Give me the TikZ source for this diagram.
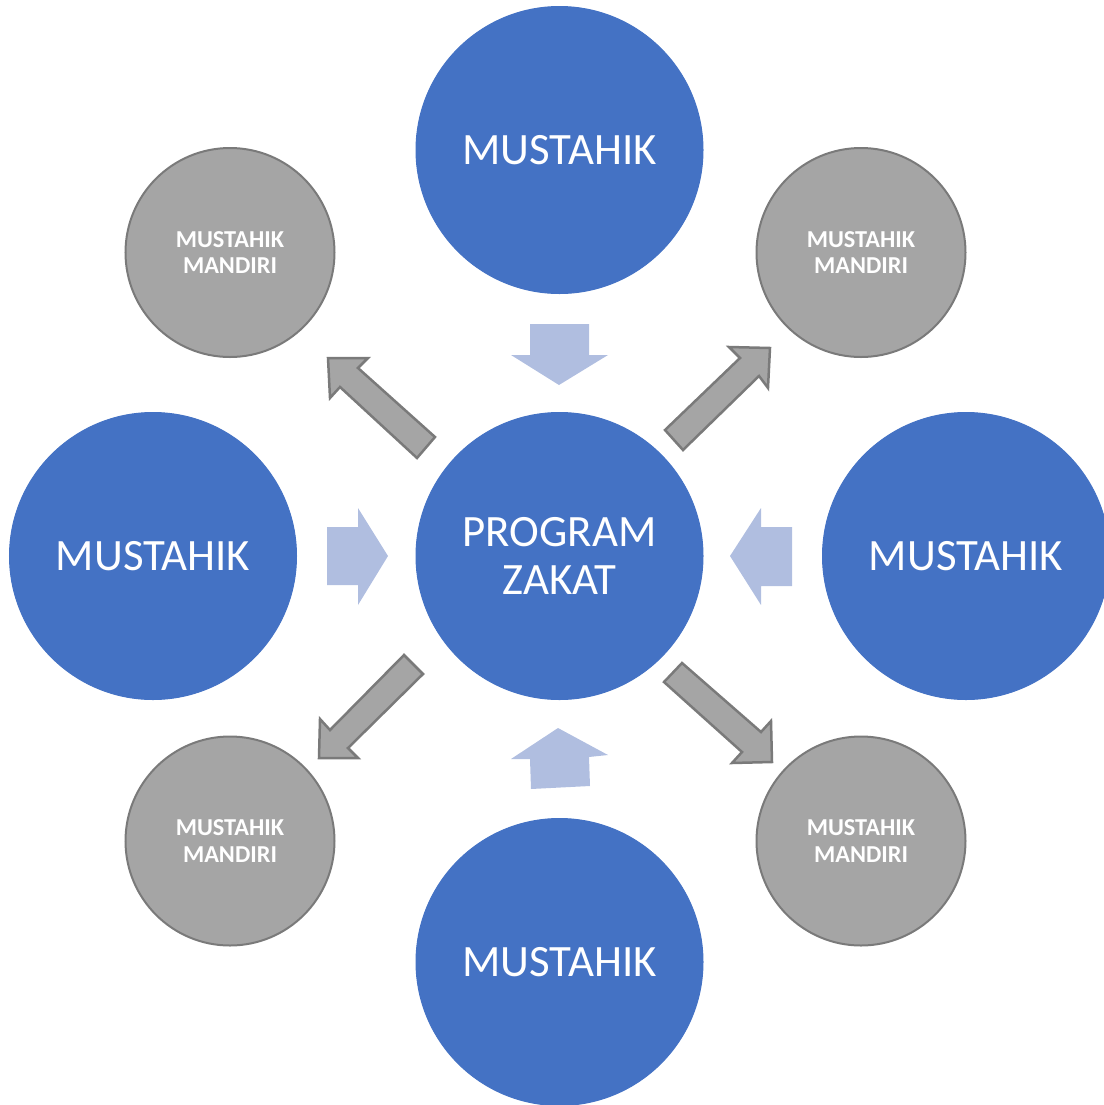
\documentclass[tikz,border=0pt]{standalone}
\usepackage{fontspec}
\setmainfont{Carlito}
\definecolor{zblue}{HTML}{4472C4}
\definecolor{zgray}{HTML}{A5A5A5}
\definecolor{zgrayline}{HTML}{7A7A7A}
\definecolor{zlight}{RGB}{176,190,224}
\begin{document}
\begin{tikzpicture}[x=1bp,y=-1bp,
  bigc/.style={circle, fill=zblue, draw=zblue, line width=1bp, minimum size=287bp, inner sep=0pt,
    text=white, font=\fontsize{45}{48}\selectfont, align=center},
  smallc/.style={circle, fill=zgray, draw=zgrayline, line width=2bp, minimum size=209bp, inner sep=0pt,
    text=white, font=\bfseries\fontsize{24.4}{27}\selectfont, align=center},
  lightarrow/.style={fill=zlight},
  grayarrow/.style={fill=zgray, draw=zgrayline, line width=2.5bp, line join=miter}]
\useasboundingbox (0,0) rectangle (1104,1105);
\begin{scope}
\clip (0,0) rectangle (1104,1105);
% big blue circles
\node[bigc] (top) at (559.5,150) {MUSTAHIK};
\node[bigc] (center) at (559.5,556) {PROGRAM\\ZAKAT};
\node[bigc] (left) at (153,556) {MUSTAHIK};
\node[bigc] (right) at (966,556) {MUSTAHIK};
\node[bigc] (bottom) at (559.5,962) {MUSTAHIK};
% grey circles
\node[smallc] (tl) at (230,252.5) {MUSTAHIK\\MANDIRI};
\node[smallc] (tr) at (861,252.5) {MUSTAHIK\\MANDIRI};
\node[smallc] (bl) at (230,841) {MUSTAHIK\\MANDIRI};
\node[smallc] (br) at (861,841) {MUSTAHIK\\MANDIRI};
% light blue block arrows (into the programme)
\fill[lightarrow] (530,324) -- (589,324) -- (589,355) -- (608,355) -- (559,385) -- (511,355) -- (530,355) -- cycle;
\fill[lightarrow] (327,527) -- (358,527) -- (358,508) -- (388,556) -- (358,605) -- (358,585) -- (327,585) -- cycle;
\fill[lightarrow] (792,527) -- (761,527) -- (761,508) -- (730,556) -- (761,605) -- (761,586) -- (792,586) -- cycle;
\fill[lightarrow] (531,789) -- (530,759) -- (511,759) -- (558,728) -- (608,755) -- (589,757) -- (590,786) -- cycle;
% grey block arrows (out of the programme)
\draw[grayarrow] (665,430) -- (740,358) -- (729,347) -- (770,348) -- (768,388) -- (759,376) -- (683,450) -- cycle;
\draw[grayarrow] (435,437) -- (358,368) -- (368,358) -- (328,358) -- (330,398) -- (340,387) -- (417,458) -- cycle;
\draw[grayarrow] (404,655) -- (330,730) -- (320,719) -- (319,758) -- (358,758) -- (348,748) -- (423,674) -- cycle;
\draw[grayarrow] (682,663) -- (761,732) -- (771,721) -- (772,762) -- (732,763) -- (742,752) -- (664,682) -- cycle;
\end{scope}
\end{tikzpicture}
\end{document}
